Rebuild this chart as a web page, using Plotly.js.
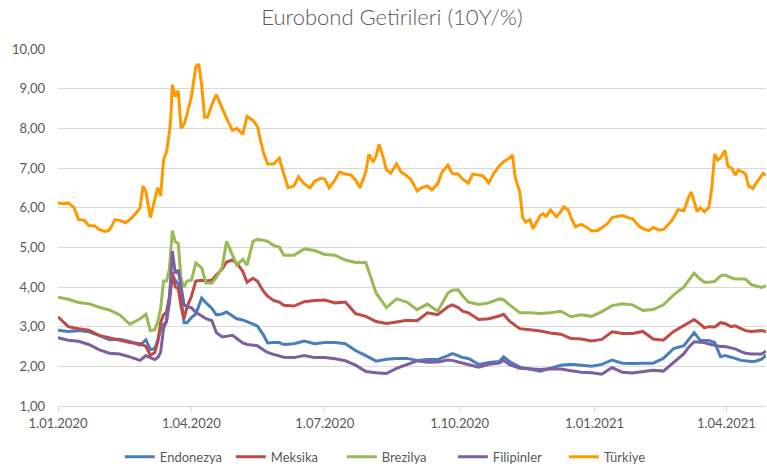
<!DOCTYPE html>
<html>
<head>
<meta charset="utf-8">
<script src="https://cdn.plot.ly/plotly-3.0.1.min.js"></script>
<style>html,body{margin:0;padding:0;background:#fff;}#chart{width:767px;height:468px;}</style>
</head>
<body>
<div id="chart"></div>
<script>
// Shared dates for Endonezya, Meksika, Brezilya, Filipinler
const datesA = [
"2020-01-01","2020-01-08","2020-01-15","2020-01-22","2020-01-29","2020-02-05","2020-02-12","2020-02-19","2020-02-26",
"2020-03-01","2020-03-04","2020-03-07","2020-03-09","2020-03-11","2020-03-13","2020-03-15","2020-03-17","2020-03-19","2020-03-21","2020-03-23","2020-03-25","2020-03-27","2020-03-29",
"2020-04-01","2020-04-04","2020-04-08","2020-04-11","2020-04-15","2020-04-18","2020-04-22","2020-04-25","2020-04-29",
"2020-05-02","2020-05-06","2020-05-09","2020-05-13","2020-05-16","2020-05-20","2020-05-23","2020-05-27","2020-05-31","2020-06-03",
"2020-06-10","2020-06-17","2020-06-24","2020-07-01","2020-07-08","2020-07-15","2020-07-22","2020-07-29",
"2020-08-05","2020-08-12","2020-08-19","2020-08-26","2020-09-02","2020-09-09","2020-09-16","2020-09-23","2020-09-26","2020-09-30",
"2020-10-03","2020-10-07","2020-10-14","2020-10-21","2020-10-28","2020-10-31","2020-11-04",
"2020-11-11","2020-11-18","2020-11-25","2020-12-02","2020-12-09","2020-12-16","2020-12-23","2020-12-30",
"2021-01-06","2021-01-13","2021-01-20","2021-01-27","2021-02-03","2021-02-10","2021-02-17","2021-02-24",
"2021-03-03","2021-03-06","2021-03-10","2021-03-14","2021-03-17","2021-03-20","2021-03-24","2021-03-28","2021-03-31",
"2021-04-04","2021-04-07","2021-04-11","2021-04-14","2021-04-18","2021-04-21","2021-04-25","2021-04-28"];

const endonezya = [
2.91,2.88,2.90,2.87,2.78,2.67,2.68,2.63,2.53,
2.67,2.42,2.45,2.65,2.92,3.06,3.12,3.60,4.30,4.17,4.07,3.70,3.10,3.10,
3.23,3.32,3.72,3.60,3.46,3.30,3.32,3.37,3.27,
3.20,3.17,3.13,3.08,3.02,2.80,2.59,2.60,2.60,2.55,
2.57,2.64,2.57,2.60,2.60,2.57,2.40,2.27,
2.13,2.18,2.20,2.20,2.15,2.17,2.17,2.27,2.32,2.27,
2.22,2.20,2.05,2.10,2.12,2.24,2.12,
1.98,1.93,1.88,1.95,2.03,2.05,2.02,2.00,
2.05,2.16,2.08,2.07,2.08,2.08,2.20,2.45,
2.52,2.65,2.85,2.66,2.66,2.65,2.60,2.24,2.27,
2.24,2.20,2.15,2.14,2.12,2.13,2.18,2.28];

const meksika = [
3.25,3.00,2.95,2.91,2.78,2.72,2.66,2.60,2.57,
2.50,2.28,2.35,2.60,3.10,3.30,3.36,3.75,4.38,4.00,3.96,3.50,3.20,3.50,
3.76,4.15,4.17,4.15,4.17,4.30,4.45,4.63,4.68,
4.60,4.40,4.12,4.22,4.15,3.90,3.77,3.66,3.62,3.54,
3.52,3.63,3.66,3.67,3.60,3.62,3.33,3.26,
3.13,3.08,3.12,3.16,3.15,3.35,3.30,3.50,3.55,3.48,
3.39,3.35,3.18,3.20,3.27,3.31,3.14,
2.95,2.92,2.89,2.84,2.81,2.70,2.69,2.64,
2.68,2.87,2.83,2.83,2.88,2.69,2.66,2.88,
3.02,3.10,3.18,3.07,2.97,3.00,2.99,3.10,3.08,
3.00,3.02,2.95,2.90,2.88,2.89,2.90,2.88];

const brezilya = [
3.74,3.69,3.61,3.58,3.49,3.42,3.30,3.06,3.20,
3.31,2.90,2.92,3.12,3.45,4.15,4.15,4.45,5.42,5.14,5.10,4.20,4.00,4.15,
4.17,4.60,4.48,4.10,4.10,4.24,4.50,5.15,4.80,
4.55,4.70,4.55,5.15,5.20,5.18,5.15,5.05,5.01,4.80,
4.80,4.96,4.92,4.82,4.80,4.68,4.62,4.62,
3.85,3.48,3.70,3.62,3.43,3.57,3.39,3.85,3.92,3.93,
3.78,3.62,3.56,3.60,3.70,3.68,3.55,
3.35,3.35,3.33,3.35,3.39,3.25,3.30,3.26,
3.38,3.53,3.58,3.55,3.41,3.43,3.55,3.80,
4.00,4.15,4.35,4.20,4.12,4.12,4.14,4.28,4.30,
4.24,4.20,4.20,4.20,4.06,4.03,3.99,4.03];

const filipinler = [
2.72,2.66,2.63,2.55,2.42,2.33,2.31,2.24,2.15,
2.27,2.22,2.17,2.22,2.35,2.95,3.15,3.70,4.90,4.35,4.43,4.00,3.55,3.50,
3.48,3.36,3.27,3.20,3.15,2.85,2.74,2.75,2.78,
2.70,2.59,2.55,2.53,2.52,2.42,2.35,2.30,2.26,2.23,
2.22,2.27,2.22,2.22,2.19,2.14,2.03,1.87,
1.84,1.82,1.95,2.05,2.14,2.10,2.11,2.16,2.15,2.11,
2.08,2.05,1.98,2.05,2.08,2.15,2.04,
1.95,1.94,1.92,1.94,1.93,1.89,1.85,1.84,
1.80,1.97,1.85,1.83,1.87,1.90,1.88,2.10,
2.32,2.47,2.62,2.61,2.60,2.56,2.53,2.50,2.50,
2.47,2.44,2.37,2.33,2.31,2.31,2.31,2.38];

// Türkiye has its own, denser dates
const datesTR = [
"2020-01-01","2020-01-05","2020-01-08","2020-01-12","2020-01-15","2020-01-19","2020-01-22","2020-01-26","2020-01-29",
"2020-02-02","2020-02-05","2020-02-09","2020-02-12","2020-02-16","2020-02-19","2020-02-23","2020-02-26","2020-02-28",
"2020-03-01","2020-03-04","2020-03-07","2020-03-09","2020-03-11","2020-03-13","2020-03-15","2020-03-17","2020-03-18","2020-03-19",
"2020-03-21","2020-03-23","2020-03-25","2020-03-27","2020-03-29",
"2020-04-01","2020-04-04","2020-04-06","2020-04-08","2020-04-10","2020-04-12","2020-04-15","2020-04-18","2020-04-22","2020-04-25","2020-04-29",
"2020-05-02","2020-05-06","2020-05-09","2020-05-13","2020-05-16","2020-05-20","2020-05-23","2020-05-27","2020-05-31",
"2020-06-03","2020-06-06","2020-06-10","2020-06-13","2020-06-17","2020-06-21","2020-06-24","2020-06-28",
"2020-07-01","2020-07-04","2020-07-08","2020-07-11","2020-07-15","2020-07-19","2020-07-22","2020-07-25","2020-07-29","2020-07-31",
"2020-08-03","2020-08-05","2020-08-07","2020-08-10","2020-08-12","2020-08-15","2020-08-19","2020-08-22","2020-08-26","2020-08-29",
"2020-09-02","2020-09-05","2020-09-09","2020-09-12","2020-09-16","2020-09-19","2020-09-23","2020-09-26","2020-09-30",
"2020-10-03","2020-10-07","2020-10-10","2020-10-14","2020-10-17","2020-10-21","2020-10-24","2020-10-28","2020-10-31",
"2020-11-04","2020-11-06","2020-11-08","2020-11-11","2020-11-13","2020-11-15","2020-11-18","2020-11-20","2020-11-22","2020-11-25","2020-11-27","2020-11-29",
"2020-12-02","2020-12-06","2020-12-09","2020-12-11","2020-12-14","2020-12-16","2020-12-19","2020-12-23","2020-12-26","2020-12-30",
"2021-01-03","2021-01-06","2021-01-10","2021-01-13","2021-01-17","2021-01-20","2021-01-24","2021-01-27","2021-01-31",
"2021-02-03","2021-02-07","2021-02-10","2021-02-14","2021-02-17","2021-02-21","2021-02-24","2021-02-27",
"2021-03-03","2021-03-06","2021-03-08","2021-03-10","2021-03-12","2021-03-14","2021-03-17","2021-03-20","2021-03-22","2021-03-24","2021-03-26","2021-03-28","2021-03-31",
"2021-04-02","2021-04-05","2021-04-07","2021-04-09","2021-04-12","2021-04-14","2021-04-16","2021-04-19","2021-04-21","2021-04-24","2021-04-26","2021-04-28"];

const turkiye = [
6.12,6.10,6.12,6.00,5.70,5.68,5.55,5.54,5.45,
5.40,5.43,5.70,5.68,5.62,5.70,5.85,6.00,6.55,
6.40,5.75,6.20,6.50,6.30,7.20,7.40,7.90,8.30,9.10,
8.80,8.95,8.00,8.10,8.35,
8.80,9.55,9.62,9.10,8.28,8.28,8.60,8.85,8.50,8.25,7.95,
8.00,7.85,8.30,8.20,8.05,7.40,7.10,7.10,7.25,
6.85,6.50,6.55,6.78,6.60,6.50,6.66,6.74,
6.72,6.50,6.70,6.90,6.85,6.82,6.70,6.50,6.90,7.35,
7.15,7.30,7.60,7.25,6.95,6.87,7.10,6.90,6.80,6.70,
6.42,6.50,6.55,6.45,6.60,6.90,7.07,6.86,6.85,
6.72,6.62,6.85,6.82,6.80,6.62,6.85,7.05,7.16,
7.25,7.33,6.75,6.40,5.75,5.64,5.70,5.47,5.60,5.80,5.85,5.78,
5.94,5.77,5.90,6.02,5.95,5.75,5.52,5.58,5.52,5.42,
5.42,5.50,5.60,5.75,5.78,5.80,5.75,5.72,5.55,
5.47,5.42,5.50,5.44,5.45,5.60,5.75,5.95,
5.92,6.25,6.40,6.15,5.90,6.00,5.90,6.00,6.50,7.35,7.20,7.25,7.45,
7.05,6.98,6.82,6.95,6.90,6.85,6.55,6.48,6.60,6.74,6.86,6.82];

const seriesNames = ["Endonezya","Meksika","Brezilya","Filipinler","Türkiye"];
const seriesColors = ["#4A7EBB","#BE4B48","#98B954","#7D5FA0","#FF9900"];
const xTickVals = ["2020-01-01","2020-04-01","2020-07-01","2020-10-01","2021-01-01","2021-04-01"];
const xTickText = ["1.01.2020","1.04.2020","1.07.2020","1.10.2020","1.01.2021","1.04.2021"];

const xs = [datesA, datesA, datesA, datesA, datesTR];
const ys = [endonezya, meksika, brezilya, filipinler, turkiye];

const traces = seriesNames.map((n, i) => ({
  type: "scatter", mode: "lines", name: n,
  x: xs[i], y: ys[i],
  line: {color: seriesColors[i], width: 3}
}));

const FONT = "Lato, 'Open Sans', sans-serif";
const layout = {
  width: 767, height: 468,
  paper_bgcolor: "#ffffff", plot_bgcolor: "#ffffff",
  separators: ",.",
  margin: {l: 58, r: 1, t: 49, b: 62},
  font: {family: FONT, color: "#595959", size: 13},
  title: {text: "Eurobond Getirileri (10Y/%)", font: {family: FONT, size: 22, weight: 300, color: "#595959"},
          x: 0.511, xanchor: "center", xref: "container", y: 0.962, yanchor: "middle", yref: "container"},
  xaxis: {type: "date", range: ["2020-01-01", "2021-04-28"],
          tickvals: xTickVals, ticktext: xTickText,
          showgrid: false, showline: true, linecolor: "#D9D9D9", linewidth: 1,
          ticks: "outside", ticklen: 5, tickcolor: "#D9D9D9",
          tickfont: {family: FONT, size: 13, color: "#595959"}, zeroline: false},
  yaxis: {range: [1, 10], dtick: 1, tick0: 1, tickformat: ".2f",
          showgrid: true, gridcolor: "#D9D9D9", gridwidth: 1, zeroline: false, showline: false,
          ticks: "", ticklabelstandoff: 12,
          tickfont: {family: FONT, size: 13, color: "#595959"}},
  showlegend: true,
  legend: {orientation: "h", x: 0.518, xanchor: "center", xref: "container",
           y: 0.024, yanchor: "middle", yref: "container",
           font: {family: FONT, size: 13, color: "#595959"}, itemwidth: 30, entrywidth: 66, entrywidthmode: "pixels"},
  hovermode: false
};

Plotly.newPlot("chart", traces, layout, {staticPlot: true, displayModeBar: false});
</script>
</body>
</html>
